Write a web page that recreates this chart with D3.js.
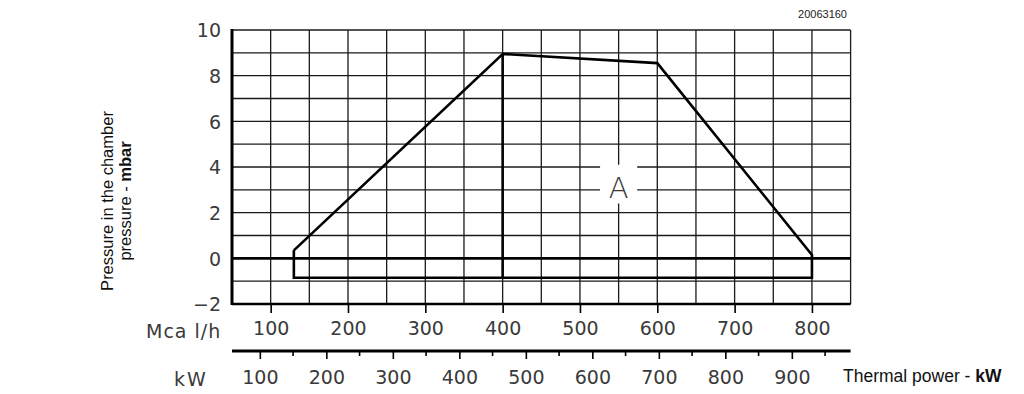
<!DOCTYPE html>
<html>
<head>
<meta charset="utf-8">
<script src="https://cdn.jsdelivr.net/npm/d3@7"></script>
<style>
  body { margin: 0; background: #fff; }
  svg { display: block; }
  .tick text { font-family: "DejaVu Sans", sans-serif; fill: #3a3a3a; }
</style>
</head>
<body>
<div class="chart"></div>
<script>
// working field of the burner (Mcal/h vs mbar)
var envelopeMcal = [130, 400, 600, 800, 800, 130, 130];
var envelopeMbar = [0.35, 8.95, 8.55, 0.15, -0.85, -0.85, 0.35];
var dividerMcal = [400, 400];
var dividerMbar = [8.95, -0.85];

var pressureTicks = [-2, 0, 2, 4, 6, 8, 10];
var mcalTicks = [100, 200, 300, 400, 500, 600, 700, 800];
var kwTicks = [100, 200, 300, 400, 500, 600, 700, 800, 900];
var kwMinorTicks = [150, 250, 350, 450, 550, 650, 750, 850, 950];

var w = 1024, h = 394;
var svg = d3.select(".chart").append("svg")
    .attr("width", w).attr("height", h);

var x = d3.scaleLinear().domain([50, 850]).range([232, 850.6]);
var y = d3.scaleLinear().domain([-2, 10]).range([304, 30]);
var kw = d3.scaleLinear().domain([50 / 0.86, 850 / 0.86]).range(x.range()); // 1 kW = 0.86 Mcal/h

// grid
var grid = svg.append("g").attr("stroke", "#1a1a1a").attr("stroke-width", 1.3);
grid.selectAll(".vg").data(d3.range(50, 851, 50)).enter().append("line")
    .attr("x1", d => x(d)).attr("x2", d => x(d))
    .attr("y1", y(10)).attr("y2", y(-2));
grid.selectAll(".hg").data(d3.range(-2, 11, 1)).enter().append("line")
    .attr("x1", x(50)).attr("x2", x(850))
    .attr("y1", d => y(d)).attr("y2", d => y(d));

// knock out behind label A
svg.append("rect").attr("x", x(526)).attr("y", y(4.1)).attr("width", x(574) - x(526)).attr("height", y(2.4) - y(4.1))
    .attr("fill", "#fff");
svg.append("text").attr("x", x(550)).attr("y", y(2.65))
    .attr("text-anchor", "middle")
    .style("font-family", "DejaVu Sans, sans-serif").style("font-size", "29px").style("font-weight", 200)
    .attr("fill", "#3a3a3a").text("A");

// thick frame lines
svg.append("line").attr("x1", x(50)).attr("x2", x(50)).attr("y1", y(10) - 1).attr("y2", y(-2) + 1)
    .attr("stroke", "#000").attr("stroke-width", 3);
svg.append("line").attr("x1", x(50)).attr("x2", x(850)).attr("y1", y(-2)).attr("y2", y(-2))
    .attr("stroke", "#000").attr("stroke-width", 2.6);
svg.append("line").attr("x1", x(50)).attr("x2", x(850)).attr("y1", y(0)).attr("y2", y(0))
    .attr("stroke", "#000").attr("stroke-width", 2.6);

// envelope
var pts = envelopeMcal.map((d, i) => [x(d), y(envelopeMbar[i])]);
svg.append("path").attr("d", d3.line()(pts))
    .attr("fill", "none").attr("stroke", "#000").attr("stroke-width", 2.6).attr("stroke-linejoin", "miter");
svg.append("path").attr("d", d3.line()(dividerMcal.map((d, i) => [x(d), y(dividerMbar[i])])))
    .attr("fill", "none").attr("stroke", "#000").attr("stroke-width", 2.6);

// y axis labels
var yAxis = d3.axisLeft(y).tickValues(pressureTicks).tickSize(0).tickPadding(11);
var ya = svg.append("g").attr("transform", `translate(${x(50)},0)`).call(yAxis);
ya.select(".domain").remove();
ya.selectAll("text").style("font-size", "19px").attr("dy", "0.36em");

// Mcal/h axis (ticks hang below the -2 line)
var mAxis = d3.axisBottom(x).tickValues(mcalTicks).tickSize(9).tickPadding(9);
var ma = svg.append("g").attr("transform", `translate(0,${y(-2)})`).call(mAxis);
ma.select(".domain").remove();
ma.selectAll("line").attr("stroke", "#000").attr("stroke-width", 1.6);
ma.selectAll("text").style("font-size", "19px");

// kW axis
var ky = 351;
svg.append("line").attr("x1", x(50)).attr("x2", x(850)).attr("y1", ky).attr("y2", ky)
    .attr("stroke", "#000").attr("stroke-width", 3);
var kAxis = d3.axisBottom(kw).tickValues(kwTicks).tickSize(8).tickPadding(12);
var ka = svg.append("g").attr("transform", `translate(0,${ky})`).call(kAxis);
ka.select(".domain").remove();
ka.selectAll("line").attr("stroke", "#000").attr("stroke-width", 1.6);
ka.selectAll("text").style("font-size", "19px");
svg.append("g").selectAll("line").data(kwMinorTicks.filter(d => kw(d) < x(850))).enter().append("line")
    .attr("x1", d => kw(d)).attr("x2", d => kw(d)).attr("y1", ky).attr("y2", ky + 5)
    .attr("stroke", "#000").attr("stroke-width", 1.6);

// unit labels
var unitFont = "DejaVu Sans, sans-serif";
svg.append("text").attr("x", 146).attr("y", 338)
    .style("font-family", unitFont).style("font-size", "19px").style("letter-spacing", "1px")
    .attr("fill", "#3a3a3a").text("Mca l/h");
svg.append("text").attr("x", 174).attr("y", 386)
    .style("font-family", unitFont).style("font-size", "19px").style("letter-spacing", "2px")
    .attr("fill", "#3a3a3a").text("kW");

// axis titles
var titleFont = "Liberation Sans, Arial, sans-serif";
var yt = svg.append("text").attr("transform", "translate(113,201) rotate(-90)")
    .attr("text-anchor", "middle").style("font-family", titleFont).style("font-size", "16.5px").attr("fill", "#111");
yt.append("tspan").attr("x", 0).attr("dy", 0).text("Pressure in the chamber");
var t2 = yt.append("tspan").attr("x", 0).attr("dy", "1.1em");
t2.append("tspan").text("pressure - ");
t2.append("tspan").style("font-weight", "bold").text("mbar");

var xt = svg.append("text").attr("x", 843).attr("y", 382)
    .style("font-family", titleFont).style("font-size", "17.5px").attr("fill", "#111");
xt.append("tspan").text("Thermal power - ");
xt.append("tspan").style("font-weight", "bold").text("kW");

svg.append("text").attr("x", 847).attr("y", 18).attr("text-anchor", "end")
    .style("font-family", titleFont).style("font-size", "11px").attr("fill", "#222").text("20063160");
</script>
</body>
</html>
